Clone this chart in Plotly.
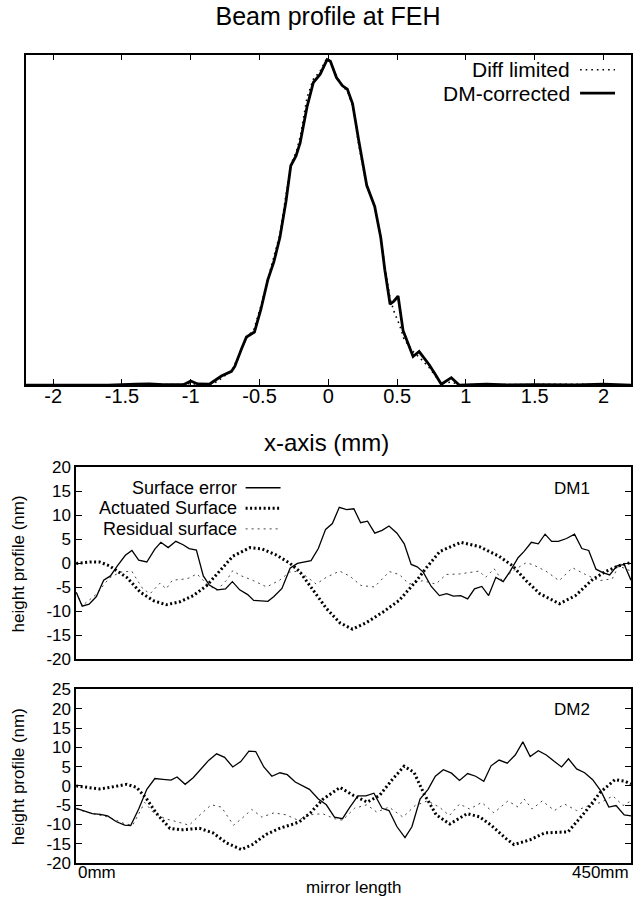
import plotly.graph_objects as go

W, H = 633, 907
FONT = "Liberation Sans, Arial, Helvetica, sans-serif"

# ---------------- Beam profile at FEH (normalised intensity) ----------------
beam_x_dm = [-2.2, -1.9, -1.6, -1.4, -1.3, -1.2, -1.1, -1.05, -1.0, -0.95, -0.865, -0.777,
             -0.704, -0.68, -0.63, -0.595, -0.537, -0.49, -0.44, -0.396, -0.352, -0.308,
             -0.273, -0.235, -0.205, -0.155, -0.109, -0.059, -0.009, 0.015, 0.059, 0.103,
             0.138, 0.176, 0.22, 0.279, 0.337, 0.381, 0.411, 0.449, 0.478, 0.507, 0.543,
             0.616, 0.66, 0.733, 0.777, 0.821, 0.894, 0.953, 1.05, 1.15, 1.3, 1.5, 1.8, 2.0, 2.2]
beam_y_dm = [0.0, 0.001, 0.0, 0.003, 0.004, 0.002, 0.003, 0.002, 0.013, 0.004, 0.003, 0.028,
             0.042, 0.057, 0.111, 0.146, 0.161, 0.230, 0.319, 0.373, 0.447, 0.556,
             0.664, 0.694, 0.733, 0.842, 0.916, 0.941, 0.985, 0.980, 0.931, 0.906,
             0.896, 0.852, 0.743, 0.605, 0.541, 0.447, 0.348, 0.245, 0.255, 0.270, 0.166,
             0.087, 0.102, 0.062, 0.033, 0.003, 0.023, 0.0, 0.002, 0.003, 0.001, 0.002, 0.001, 0.003, 0.0]

beam_x_diff = [-2.2, -1.8, -1.5, -1.35, -1.2, -1.1, -1.0, -0.85, -0.78, -0.70, -0.65, -0.60,
               -0.54, -0.49, -0.44, -0.40, -0.35, -0.31, -0.27, -0.23, -0.20, -0.155, -0.11,
               -0.06, -0.01, 0.015, 0.06, 0.10, 0.14, 0.18, 0.22, 0.28, 0.34, 0.38, 0.41,
               0.45, 0.48, 0.52, 0.55, 0.62, 0.66, 0.73, 0.78, 0.82, 0.90, 0.95, 1.1, 1.3,
               1.8, 2.2]
beam_y_diff = [0.0, 0.001, 0.002, 0.003, 0.004, 0.002, 0.005, 0.0, 0.02, 0.045, 0.09, 0.14,
               0.17, 0.24, 0.32, 0.38, 0.46, 0.57, 0.67, 0.71, 0.76, 0.87, 0.925,
               0.95, 0.99, 0.98, 0.935, 0.905, 0.89, 0.84, 0.73, 0.60, 0.54, 0.45, 0.36,
               0.26, 0.22, 0.18, 0.14, 0.10, 0.085, 0.055, 0.025, 0.005, 0.01, 0.0, 0.003, 0.002,
               0.003, 0.0]

beam_ticks = [-2, -1.5, -1, -0.5, 0, 0.5, 1, 1.5, 2]
beam_ticklabels = ["-2", "-1.5", "-1", "-0.5", "0", "0.5", "1", "1.5", "2"]

# ---------------- DM1 height profiles (nm) vs mirror position (mm) ----------------
dm1_surface_x = [0, 4.9, 10.5, 16.4, 22.3, 27.8, 33.4, 39.9, 45.2, 50.7, 57.3, 63.8, 68.7,
                 74.6, 80.8, 86.7, 91.6, 97.5, 103.1, 108.0, 114.6, 121.1, 126.7, 132.6,
                 139.1, 144.0, 155.5, 160.4, 166.9, 173.5, 179.4, 186.6, 190.5, 196.4,
                 202.3, 207.8, 213.4, 219.3, 225.2, 230.7, 236.3, 242.2, 248.1, 253.7,
                 260.2, 266.1, 271.7, 276.6, 281.5, 288.0, 294.6, 300.5, 306.0, 311.9,
                 317.5, 323.1, 329.0, 334.5, 340.4, 346.3, 351.8, 358.4, 363.3, 369.2,
                 374.8, 380.3, 385.6, 391.1, 397.7, 404.2, 410.1, 415.7, 421.6, 427.1,
                 432.7, 438.6, 444.5, 450.0]
dm1_surface_y = [-6.0, -8.9, -8.5, -6.9, -3.5, -2.6, -0.5, 1.7, 2.7, 0.7, 0.3, 3.0, 4.4,
                 3.3, 4.6, 3.9, 3.1, 2.8, -2.6, -4.5, -5.5, -5.3, -3.8, -5.5,
                 -6.5, -7.7, -7.9, -6.9, -5.2, -1.0, 0.0, 0.3, 0.6, 3.1,
                 7.1, 8.3, 11.7, 11.2, 11.4, 8.5, 8.8, 6.3, 6.9, 7.8,
                 6.3, 4.1, -0.2, -0.7, -1.8, -4.8, -6.7, -6.3, -6.8, -6.7,
                 -7.4, -5.3, -4.8, -6.7, -2.9, -3.8, -1.7, 1.2, 2.5, 4.4,
                 4.1, 6.1, 4.6, 4.6, 5.2, 6.1, 3.1, 2.7, -1.2, -1.9,
                 -2.4, -0.5, -0.2, -3.5]

dm1_actuated_x = [0, 11, 19, 27, 41, 52, 63, 73, 84, 95, 106, 116, 127, 141, 151, 162, 173,
                  181, 192, 203, 214, 224, 235, 249, 262, 276, 284, 295, 312, 327, 343, 354,
                  365, 376, 392, 405, 419, 430, 440, 450]
dm1_actuated_y = [0.0, 0.3, 0.3, -0.5, -2.9, -6.0, -7.8, -8.6, -8.0, -6.7, -4.6, -1.6, 1.5,
                  3.3, 3.0, 1.8, 0.1, -1.6, -5.6, -9.4, -12.4, -13.7, -12.4, -10.1, -7.7,
                  -3.6, -0.9, 2.5, 4.4, 3.5, 1.5, -0.5, -3.6, -6.3, -8.4, -6.7, -3.3, -1.6,
                  -0.5, 0.2]

dm1_residual_x = [0, 5, 16, 27, 36, 45, 54, 60, 68, 73, 78, 90, 98, 106, 114, 122, 127, 133,
                  143, 154.5, 165, 173, 181, 194.7, 202.8, 213.6, 221.7, 231, 241.9, 254,
                  262, 270, 281, 291.8, 300, 310.7, 327, 332, 339, 345.6, 353.8, 364.7, 370,
                  381, 391.7, 402.5, 413, 424, 434.8, 440, 450]
dm1_residual_y = [-6.0, -8.8, -6.5, -3.0, -1.8, -1.6, -5.3, -6.3, -4.1, -5.3, -3.5, -3.2,
                  -2.2, -4.3, -5.6, -3.5, -1.5, -2.5, -3.5, -4.9, -3.5, -1.8, -1.6, -4.3,
                  -2.9, -1.6, -2.6, -4.6, -4.9, -1.7, -2.3, -4.3, -3.6, -4.3, -2.3, -2.2,
                  -1.6, -2.9, -1.1, -3.6, -1.6, 0.1, -0.2, -1.6, -3.6, -0.9, -2.3, -3.6,
                  -3.2, -0.5, -1.6]

# ---------------- DM2 height profiles ----------------
dm2_surface_x = [0, 6.5, 13.1, 19.6, 25.5, 32.7, 39.3, 44.2, 50.7, 57.3, 63.8, 70.4, 76.9,
                 81.8, 88.4, 94.9, 101.5, 107.4, 113.9, 120.4, 127.0, 133.5, 140.1, 145.6,
                 152.2, 158.7, 165.3, 171.2, 177.7, 183.9, 189.2, 196.4, 202.9, 209.5,
                 216.0, 221.9, 228.5, 235.0, 241.5, 248.1, 253.7, 260.2, 266.7, 272.3,
                 278.9, 285.4, 291.3, 297.8, 304.4, 310.9, 317.5, 324.0, 330.6, 336.5,
                 343.0, 349.6, 356.1, 362.3, 368.2, 374.8, 381.3, 387.9, 393.7, 399.3,
                 405.9, 412.4, 418.9, 425.5, 432.0, 437.9, 444.5, 450.0]
dm2_surface_y = [-5.8, -6.4, -7.2, -7.4, -7.8, -9.3, -10.2, -10.3, -6.0, -0.9, 1.9, 1.7, 1.5,
                 2.3, 0.4, 2.1, 4.4, 6.6, 8.3, 7.4, 4.9, 6.3, 9.0, 8.9,
                 4.9, 2.5, 3.4, 2.9, 1.0, 0.0, -0.9, -3.4, -4.9, -8.1,
                 -8.5, -5.6, -2.6, -2.6, -1.9, -5.8, -6.4, -10.6, -13.4, -10.6,
                 -3.4, -0.9, 2.5, 4.2, 3.3, 1.4, 3.2, 2.5, 1.2, 5.2,
                 6.7, 5.9, 8.0, 11.4, 7.6, 9.1, 8.0, 6.3, 4.9, 7.0,
                 4.4, 3.4, 1.6, -1.3, -5.5, -5.1, -7.5, -7.8]

dm2_actuated_x = [0, 19, 27, 41, 49, 57, 65, 76, 85, 100, 111, 122, 134, 143, 154, 165, 176,
                  181, 190, 200, 214, 225, 236, 246, 256, 266, 274, 282, 292, 303, 317, 327,
                  337, 348, 355, 368, 380, 399, 413, 425, 437, 445, 450]
dm2_actuated_y = [0.0, -0.8, -0.4, 0.4, -0.4, -3.3, -7.1, -11.0, -11.4, -11.0, -12.2, -14.8,
                  -16.5, -15.2, -12.6, -11.0, -9.9, -9.3, -7.0, -3.5, -0.4, -2.5, -4.2, -2.5,
                  1.5, 5.1, 3.5, -2.0, -7.5, -9.9, -7.2, -8.0, -10.3, -13.5, -15.2, -14.0,
                  -12.2, -11.9, -6.7, -1.7, 1.6, 1.2, 0.5]

dm2_residual_x = [0, 13.1, 26.2, 39.3, 45.8, 55.6, 62.2, 72, 81.8, 91.6, 101.5, 109.6, 117.8,
                  127.6, 134.2, 142.4, 150.6, 160.4, 170.2, 180, 189.8, 199.7, 209.5, 216,
                  225.8, 235.7, 243.8, 253.7, 265.1, 274.9, 284.8, 294.6, 302.7, 310.9,
                  319.1, 328.9, 338.8, 350.2, 358.4, 363.3, 369.8, 378, 387.9, 396, 405.9,
                  415.7, 425.5, 435.3, 443.5, 450]
dm2_residual_y = [-6.0, -7.2, -8.1, -9.8, -10.2, -4.3, -6.8, -8.5, -9.3, -10.2, -7.2, -4.9,
                  -5.5, -10.2, -8.5, -6.1, -8.1, -7.0, -7.5, -8.9, -7.5, -7.2, -8.5, -8.9,
                  -5.8, -4.9, -6.8, -5.5, -8.1, -5.1, -3.9, -5.5, -7.7, -4.7, -6.0, -4.3,
                  -7.0, -3.9, -5.5, -3.4, -6.0, -3.9, -6.4, -4.7, -6.4, -5.1, -4.3, -2.6,
                  -5.1, -3.9]

dm1_ticks = [-20, -15, -10, -5, 0, 5, 10, 15, 20]
dm2_ticks = [-20, -15, -10, -5, 0, 5, 10, 15, 20, 25]

# ---------------- styles ----------------
style_surface = dict(color="black", width=1.3)
style_actuated = dict(color="black", width=3, dash="2px,2.5px")
style_residual = dict(color="#444444", width=1, dash="2px,4px")
style_dm = dict(color="black", width=2.8)
style_diff = dict(color="black", width=1.6, dash="1.6px,4px")

fig = go.Figure()
fig.add_trace(go.Scatter(x=beam_x_diff, y=beam_y_diff, mode="lines", line=style_diff,
                         name="Diff limited", xaxis="x", yaxis="y"))
fig.add_trace(go.Scatter(x=beam_x_dm, y=beam_y_dm, mode="lines", line=style_dm,
                         name="DM-corrected", xaxis="x", yaxis="y"))

for (sx, sy, ax, ay, rx, ry, xa, ya) in [
    (dm1_surface_x, dm1_surface_y, dm1_actuated_x, dm1_actuated_y, dm1_residual_x, dm1_residual_y, "x2", "y2"),
    (dm2_surface_x, dm2_surface_y, dm2_actuated_x, dm2_actuated_y, dm2_residual_x, dm2_residual_y, "x3", "y3"),
]:
    fig.add_trace(go.Scatter(x=rx, y=ry, mode="lines", line=style_residual,
                             name="Residual surface", xaxis=xa, yaxis=ya))
    fig.add_trace(go.Scatter(x=ax, y=ay, mode="lines", line=style_actuated,
                             name="Actuated Surface", xaxis=xa, yaxis=ya))
    fig.add_trace(go.Scatter(x=sx, y=sy, mode="lines", line=style_surface,
                             name="Surface error", xaxis=xa, yaxis=ya))

def px_x(p):
    return p / W

def px_y(p):
    return 1 - p / H

frame = dict(showline=True, linecolor="black", linewidth=1.5, showgrid=False,
             zeroline=False)

top_dom_x = [px_x(25.7), px_x(632)]
low_dom_x = [px_x(76.3), px_x(632)]

fig.update_layout(
    width=W, height=H,
    margin=dict(l=0, r=0, t=0, b=0),
    paper_bgcolor="white", plot_bgcolor="white",
    showlegend=False,
    font=dict(family=FONT, color="black"),
    title=dict(text="Beam profile at FEH", x=px_x(328), xanchor="center",
               y=px_y(16), yanchor="middle", font=dict(size=25, family=FONT)),
    xaxis=dict(domain=top_dom_x, range=[-2.2, 2.2], anchor="y",
               tickvals=beam_ticks, ticktext=beam_ticklabels,
               ticks="inside", ticklen=6, tickwidth=1.2, tickcolor="black",
               mirror="ticks", tickfont=dict(size=20), ticklabelstandoff=-8, **frame),
    yaxis=dict(domain=[px_y(384.3), px_y(46.7)], range=[0, 1.0], anchor="x",
               showticklabels=False, ticks="", mirror=True, **frame),
    xaxis2=dict(domain=low_dom_x, range=[0, 450], anchor="y2", ticks="",
                showticklabels=False, mirror=True, **frame),
    yaxis2=dict(domain=[px_y(664.3), px_y(468.3)], range=[-20, 20], anchor="x2",
                tickvals=dm1_ticks, ticktext=[str(v) for v in dm1_ticks],
                ticks="inside", ticklen=6, tickwidth=1.2, tickcolor="black",
                mirror="ticks", tickfont=dict(size=17), **frame),
    xaxis3=dict(domain=low_dom_x, range=[0, 450], anchor="y3", ticks="",
                showticklabels=False, mirror=True, **frame),
    yaxis3=dict(domain=[px_y(872.3), px_y(695)], range=[-20, 25], anchor="x3",
                tickvals=dm2_ticks, ticktext=[str(v) for v in dm2_ticks],
                ticks="inside", ticklen=6, tickwidth=1.2, tickcolor="black",
                mirror="ticks", tickfont=dict(size=17), **frame),
)

ann = []
def text(t, x, y, size, xanchor="center", yanchor="middle", angle=0, xref="paper",
         color="black", height=None):
    a = dict(text=t, x=x, y=y, xref=xref, yref="paper", xanchor=xanchor,
             yanchor=yanchor, showarrow=False, textangle=angle,
             font=dict(size=size, family=FONT, color=color))
    if height is not None:
        a["height"] = height
        a["valign"] = "middle"
    ann.append(a)

text("x-axis (mm)", px_x(327), px_y(443), 24)
text("height profile (nm)", px_x(18), px_y(566.3), 17, angle=-90)
text("height profile (nm)", px_x(18), px_y(783.6), 17, angle=-90)
text("mirror length", px_x(354), px_y(897), 17)
text("0mm", 0, px_y(882), 17, xanchor="left", xref="x3")
text("450mm", 450, px_y(882), 17, xanchor="right", xref="x3")
text("DM1", px_x(573), px_y(490), 17)
text("DM2", px_x(573), px_y(715), 17)

# legends (gnuplot style: text right-aligned, sample to the right)
shapes = []
top_legend = [("Diff limited", style_diff, 62), ("DM-corrected", style_dm, 86)]
for label, st, yy in top_legend:
    text(label, px_x(573), px_y(yy), 21, xanchor="right", height=21)
    shapes.append(dict(type="line", xref="paper", yref="paper",
                       x0=px_x(581), x1=px_x(616), y0=px_y(yy), y1=px_y(yy), line=st))
mid_legend = [("Surface error", style_surface, 489), ("Actuated Surface", style_actuated, 510),
              ("Residual surface", style_residual, 531)]
for label, st, yy in mid_legend:
    text(label, px_x(239), px_y(yy), 18, xanchor="right", height=20)
    shapes.append(dict(type="line", xref="paper", yref="paper",
                       x0=px_x(246), x1=px_x(281), y0=px_y(yy), y1=px_y(yy), line=st))

fig.update_layout(annotations=ann, shapes=shapes)
fig.write_html(
    "out.html",
    config={"displayModeBar": False},
    post_script="document.body.style.margin='0px';document.body.style.overflow='hidden';",
)
